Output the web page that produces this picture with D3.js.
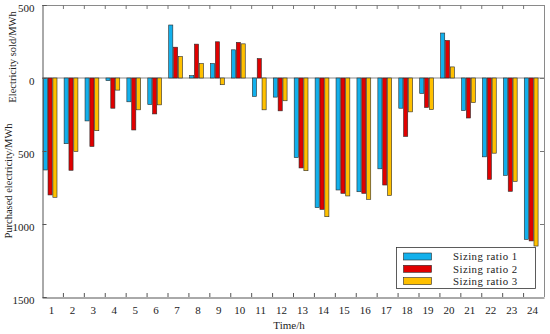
<!DOCTYPE html>
<html><head><meta charset="utf-8">
<script src="https://cdn.jsdelivr.net/npm/d3@7"></script>
<style>body{margin:0;background:#fff}svg{display:block}text{font-family:"Liberation Serif","Times New Roman",serif;fill:#222}</style>
</head><body>
<svg id="c" width="550" height="334"></svg>
<script>
const hours = d3.range(1, 25).map(String);
const seriesNames = ["Sizing ratio 1", "Sizing ratio 2", "Sizing ratio 3"];
const colors = ["#12B0EC", "#E00000", "#FFC000"];
// positive = electricity sold, negative = purchased electricity (MWh)
const ratio1 = [-630, -450, -294, -18, -163, -182, 363, 16, 99, 193, -126, -131, -545, -888, -767, -779, -622, -207, -106, 308, -223, -540, -667, -1105];
const ratio2 = [-801, -632, -469, -207, -356, -246, 211, 232, 248, 244, 133, -225, -616, -900, -790, -790, -733, -400, -202, 257, -274, -694, -776, -1116];
const ratio3 = [-817, -503, -361, -83, -218, -184, 147, 99, -46, 234, -218, -156, -635, -950, -808, -831, -804, -232, -216, 76, -168, -515, -708, -1151];
const yTicks = [500, 0, -500, -1000, -1500];

const series = [ratio1, ratio2, ratio3];
const svg = d3.select("#c");
const X0 = 42, X1 = 544, Y0 = 5, Y1 = 297;
const x = d3.scaleBand().domain(hours).range([X0, X1]).paddingInner(0);
const xs = d3.scaleBand().domain(seriesNames).range([1.2, 15]).paddingInner(0.15).paddingOuter(0);
const y = d3.scaleLinear().domain([500, -1500]).range([Y0, Y1]);

// zero line
svg.append("line").attr("x1", X0).attr("x2", X1).attr("y1", y(0)).attr("y2", y(0))
  .attr("stroke", "#8a8a8a").attr("stroke-width", 1);

// bars
series.forEach((vals, si) => {
  svg.append("g").selectAll("rect").data(vals).join("rect")
    .attr("x", (d, i) => x(hours[i]) + xs(seriesNames[si]))
    .attr("width", xs.bandwidth())
    .attr("y", d => Math.min(y(d), y(0)))
    .attr("height", d => Math.abs(y(d) - y(0)))
    .attr("fill", colors[si]).attr("stroke", "#2a2a2a").attr("stroke-width", 0.6);
});

// frame top/right
svg.append("line").attr("x1", X0).attr("x2", X1).attr("y1", Y0 + 0.5).attr("y2", Y0 + 0.5).attr("stroke", "#8a8a8a");
svg.append("line").attr("x1", X1 + 0.5).attr("x2", X1 + 0.5).attr("y1", Y0).attr("y2", Y1).attr("stroke", "#8a8a8a");

// top ticks and right ticks (inward)
const bounds = hours.slice(1).map(h => x(h));
svg.append("g").selectAll("line").data(bounds).join("line")
  .attr("x1", d => d + 0.5).attr("x2", d => d + 0.5).attr("y1", Y0).attr("y2", Y0 + 4).attr("stroke", "#777");
svg.append("g").selectAll("line").data(yTicks.slice(1, -1)).join("line")
  .attr("x1", X1 - 4).attr("x2", X1).attr("y1", d => Math.round(y(d)) + 0.5).attr("y2", d => Math.round(y(d)) + 0.5).attr("stroke", "#777");

// left axis
const yAxis = d3.axisLeft(y).tickValues(yTicks).tickSize(-4).tickPadding(8).tickFormat(d => Math.abs(d));
const gy = svg.append("g").attr("transform", `translate(${X0 + 0.5},0)`).call(yAxis);
gy.select(".domain").attr("stroke", "#555");
gy.selectAll(".tick line").attr("stroke", "#555");
gy.selectAll("text").attr("font-size", 11).attr("font-family", "Liberation Serif").attr("fill", "#222").attr("dy", "0.55em");

// bottom axis
const xAxis = d3.axisBottom(x).tickSize(0).tickPadding(9);
const gx = svg.append("g").attr("transform", `translate(0,${Y1 + 0.5})`).call(xAxis);
gx.select(".domain").attr("stroke", "#555");
gx.selectAll("text").attr("font-size", 11).attr("font-family", "Liberation Serif").attr("fill", "#222").attr("dx", "-1");
svg.append("g").selectAll("line").data(bounds).join("line")
  .attr("x1", d => d + 0.5).attr("x2", d => d + 0.5).attr("y1", Y1 - 4).attr("y2", Y1).attr("stroke", "#555");

// axis titles
svg.append("text").attr("transform", `translate(${(X0 + X1) / 2 - 4},329)`).attr("text-anchor", "middle")
  .attr("font-size", 11).text("Time/h");
svg.append("text").attr("transform", "translate(16,57) rotate(-90)").attr("text-anchor", "middle")
  .attr("font-size", 10.5).text("Electricity sold/MWh");
svg.append("text").attr("transform", "translate(12,181) rotate(-90)").attr("text-anchor", "middle")
  .attr("font-size", 10.5).text("Purchased electricity/MWh");

// legend
const lg = svg.append("g");
lg.append("rect").attr("x", 396.5).attr("y", 247.5).attr("width", 139).attr("height", 41)
  .attr("fill", "#fff").attr("stroke", "#333").attr("stroke-width", 0.8);
seriesNames.forEach((n, i) => {
  const cy = 256.5 + i * 12.3;
  lg.append("rect").attr("x", 403.5).attr("y", cy - 3.5).attr("width", 28).attr("height", 7)
    .attr("fill", colors[i]).attr("stroke", "#2a2a2a").attr("stroke-width", 0.6);
  lg.append("text").attr("x", 453).attr("y", cy + 3.8).attr("font-size", 10.8)
    .attr("letter-spacing", "0.45px").text(n);
});
</script>
</body></html>
